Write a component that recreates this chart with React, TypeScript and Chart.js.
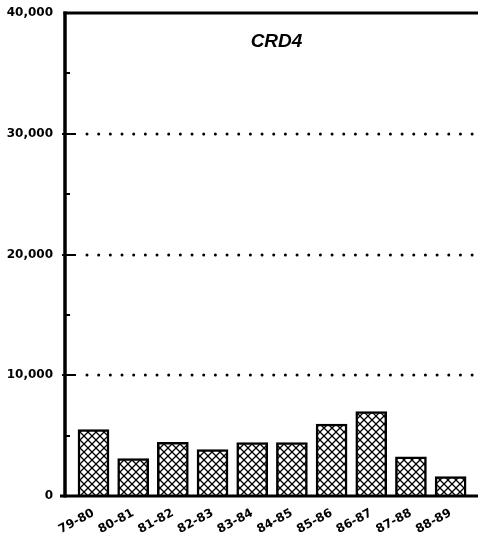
import React, { useEffect, useRef } from "react";
import { Chart, registerables } from "chart.js";

Chart.register(...registerables);

const categories = ["79-80", "80-81", "81-82", "82-83", "83-84", "84-85", "85-86", "86-87", "87-88", "88-89"];
const values = [5500, 3100, 4450, 3850, 4420, 4420, 5950, 7000, 3250, 1600];
const gridValues = [10000, 20000, 30000];
const minorTicks = [5000, 15000, 25000, 35000];
const yMax = 40000;
const titleText = "CRD4";

function makeHatch(): CanvasPattern | string {
  const c = document.createElement("canvas");
  c.width = 8;
  c.height = 8;
  const g = c.getContext("2d");
  if (!g) return "#fff";
  g.fillStyle = "#fff";
  g.fillRect(0, 0, 8, 8);
  g.strokeStyle = "#000";
  g.lineWidth = 1.3;
  g.beginPath();
  g.moveTo(-1, -1);
  g.lineTo(9, 9);
  g.moveTo(-1, 9);
  g.lineTo(9, -1);
  g.stroke();
  return g.createPattern(c, "repeat") || "#fff";
}

const decoPlugin = {
  id: "deco",
  beforeDatasetsDraw(chart: any) {
    const { ctx, chartArea: a, scales } = chart;
    const y = scales.y;
    ctx.save();
    ctx.strokeStyle = "#000";
    ctx.lineWidth = 3;
    ctx.lineCap = "round";
    ctx.setLineDash([0, 11.67]);
    for (const v of gridValues) {
      const py = Math.round(y.getPixelForValue(v));
      ctx.beginPath();
      ctx.moveTo(a.left + 22, py);
      ctx.lineTo(a.right, py);
      ctx.stroke();
    }
    ctx.restore();
  },
  afterDatasetsDraw(chart: any) {
    const { ctx, chartArea: a, scales } = chart;
    const y = scales.y;
    ctx.save();
    ctx.strokeStyle = "#000";
    ctx.lineCap = "butt";
    ctx.lineWidth = 3;
    const pTop = y.getPixelForValue(yMax);
    ctx.beginPath();
    ctx.moveTo(a.left - 1.5, pTop);
    ctx.lineTo(a.right, pTop);
    ctx.stroke();
    const p0 = y.getPixelForValue(0);
    ctx.beginPath();
    ctx.moveTo(a.left - 5, p0);
    ctx.lineTo(a.right, p0);
    ctx.stroke();
    ctx.lineWidth = 3.5;
    ctx.beginPath();
    ctx.moveTo(a.left, pTop - 1.5);
    ctx.lineTo(a.left, p0 + 1.5);
    ctx.stroke();
    ctx.lineWidth = 2;
    for (const v of gridValues) {
      const py = Math.round(y.getPixelForValue(v));
      ctx.beginPath();
      ctx.moveTo(a.left - 3, py);
      ctx.lineTo(a.left + 11, py);
      ctx.stroke();
    }
    for (const v of minorTicks) {
      const py = Math.round(y.getPixelForValue(v));
      ctx.beginPath();
      ctx.moveTo(a.left, py);
      ctx.lineTo(a.left + 5, py);
      ctx.stroke();
    }
    ctx.fillStyle = "#000";
    ctx.font = "italic bold 19px 'Liberation Sans', Arial, sans-serif";
    ctx.textAlign = "center";
    ctx.textBaseline = "middle";
    ctx.fillText(titleText, (a.left + a.right) / 2 + 5, a.top + 29);
    ctx.restore();
  },
};

export default function App() {
  const ref = useRef<HTMLCanvasElement | null>(null);
  useEffect(() => {
    if (!ref.current) return;
    const hatch = makeHatch();
    const tickFont = { family: "'DejaVu Sans', sans-serif", size: 12, weight: "bold" as const };
    const chart = new Chart(ref.current, {
      type: "bar",
      data: {
        datasets: [
          {
            data: values.map((v, i) => ({ x: i, y: v })),
            backgroundColor: hatch as any,
            borderColor: "#000",
            borderWidth: 2.5,
            barThickness: 31,
          },
        ],
      },
      options: {
        responsive: false,
        animation: false,
        events: [],
        layout: { padding: { top: 13, right: 0, left: 0, bottom: 0 } },
        plugins: { legend: { display: false }, tooltip: { enabled: false }, title: { display: false } },
        scales: {
          x: {
            type: "linear",
            offset: false,
            min: -0.718,
            max: 9.69,
            afterBuildTicks: (s: any) => {
              s.ticks = categories.map((_, i) => ({ value: i }));
            },
            afterFit: (s: any) => {
              s.height = 46;
              s.paddingLeft = 0;
              s.paddingRight = 0;
            },
            grid: { display: false, drawTicks: false, offset: false },
            border: { display: false },
            ticks: {
              autoSkip: false,
              minRotation: 28,
              maxRotation: 28,
              padding: 10,
              color: "#000",
              font: tickFont,
              callback: (v: any) => categories[v as number] ?? "",
            },
          },
          y: {
            min: 0,
            max: yMax,
            afterFit: (s: any) => {
              s.width = 65;
              s.paddingTop = 0;
              s.paddingBottom = 0;
            },
            grid: { display: false, drawTicks: false },
            border: { display: false },
            ticks: {
              stepSize: 10000,
              padding: 12,
              color: "#000",
              font: tickFont,
              callback: (v: any) => Number(v).toLocaleString("en-US"),
            },
          },
        },
      },
      plugins: [decoPlugin],
    });
    return () => chart.destroy();
  }, []);
  return (
    <div style={{ position: "fixed", left: 0, top: 0, width: 478, height: 542, background: "#fff" }}>
      <canvas ref={ref} width={478} height={542} style={{ display: "block" }} />
    </div>
  );
}
